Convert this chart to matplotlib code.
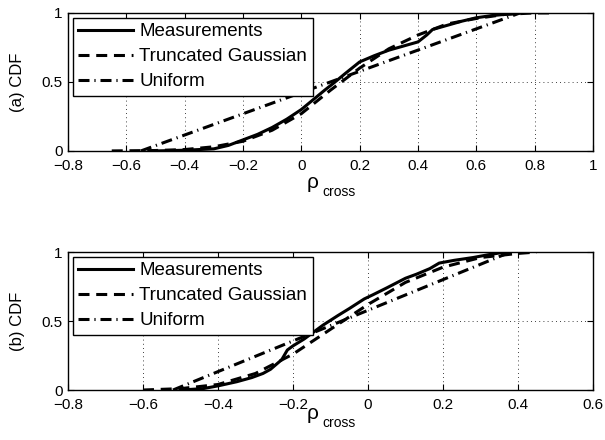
import numpy as np
import matplotlib
matplotlib.use("Agg")
import matplotlib.pyplot as plt

plt.rcParams['font.family'] = ['Liberation Sans', 'DejaVu Sans']

# (a) top panel
top_meas_x = [-0.5, -0.4, -0.3, -0.25, -0.2, -0.15, -0.1, -0.05, 0.0, 0.04, 0.08, 0.11,
              0.15, 0.2, 0.25, 0.3, 0.35, 0.4, 0.43, 0.45, 0.5, 0.55, 0.6, 0.65, 0.7, 0.75]
top_meas_y = [0.0, 0.005, 0.015, 0.04, 0.08, 0.12, 0.17, 0.23, 0.30, 0.37, 0.44, 0.49,
              0.56, 0.645, 0.69, 0.73, 0.76, 0.79, 0.84, 0.88, 0.91, 0.94, 0.965, 0.98, 0.99, 1.0]
top_gauss_x = [-0.65, -0.5, -0.4, -0.3, -0.2, -0.1, 0.0, 0.1, 0.2, 0.3, 0.4, 0.5, 0.6, 0.7, 0.8, 0.85]
top_gauss_y = [0.0, 0.003, 0.01, 0.03, 0.07, 0.15, 0.27, 0.44, 0.60, 0.74, 0.84, 0.92, 0.96, 0.99, 1.0, 1.0]
top_unif_x = [-0.55, 0.75]
top_unif_y = [0.0, 1.0]

# (b) bottom panel
bot_meas_x = [-0.5, -0.44, -0.4, -0.35, -0.31, -0.28, -0.26, -0.23, -0.215, -0.2, -0.17, -0.15,
              -0.12, -0.08, -0.05, -0.01, 0.013, 0.05, 0.1, 0.13, 0.165, 0.19, 0.23, 0.28, 0.32, 0.355, 0.38]
bot_meas_y = [0.0, 0.01, 0.03, 0.06, 0.09, 0.12, 0.15, 0.22, 0.29, 0.32, 0.37, 0.41,
              0.47, 0.54, 0.59, 0.66, 0.69, 0.74, 0.81, 0.84, 0.88, 0.92, 0.94, 0.96, 0.98, 0.995, 1.0]
bot_gauss_x = [-0.6, -0.5, -0.4, -0.3, -0.2, -0.1, 0.0, 0.1, 0.2, 0.3, 0.4, 0.45]
bot_gauss_y = [0.0, 0.01, 0.04, 0.12, 0.26, 0.44, 0.62, 0.78, 0.89, 0.96, 0.99, 1.0]
bot_unif_x = [-0.52, 0.38]
bot_unif_y = [0.0, 1.0]

labels = ['Measurements', 'Truncated Gaussian', 'Uniform']
top_xticks = [-0.8, -0.6, -0.4, -0.2, 0, 0.2, 0.4, 0.6, 0.8, 1]
bot_xticks = [-0.8, -0.6, -0.4, -0.2, 0, 0.2, 0.4, 0.6]

fig = plt.figure(figsize=(6.05, 4.4), dpi=100)
ax1 = fig.add_axes([0.1124, 0.657, 0.8677, 0.3136])
ax2 = fig.add_axes([0.1124, 0.1136, 0.8677, 0.3136])


def fmt(v):
    return '%g' % v


def draw(ax, mx, my, gx, gy, ux, uy, xticks, tag):
    ax.plot(mx, my, color='black', lw=2.2, label=labels[0])
    ax.plot(gx, gy, color='black', lw=2.2, dashes=(3.6, 2.2), label=labels[1])
    ax.plot(ux, uy, color='black', lw=2.2, dashes=(3.6, 1.6, 0.4, 1.6), label=labels[2])
    ax.set_xlim(xticks[0], xticks[-1])
    ax.set_ylim(0, 1)
    ax.set_xticks(xticks)
    ax.set_xticklabels([fmt(t).replace('-', '\u2212') for t in xticks])
    ax.set_yticks([0, 0.5, 1])
    ax.set_yticklabels(['0', '0.5', '1'])
    ax.tick_params(direction='in', top=True, right=True, labelsize=11, length=4)
    ax.tick_params(axis='x', pad=6)
    ax.tick_params(axis='y', pad=4)
    ax.grid(True, linestyle=(0, (1, 4)), color='black', lw=0.6)
    for s in ax.spines.values():
        s.set_linewidth(1.0)
    ax.set_ylabel(tag + ' CDF', fontsize=12, labelpad=12)
    leg = ax.legend(loc='upper left', fontsize=13.5, fancybox=False, edgecolor='black',
                    framealpha=1, handlelength=2.9, handletextpad=0.35, borderpad=0.3,
                    labelspacing=0.42, borderaxespad=0.25)
    leg.get_frame().set_linewidth(1.0)


draw(ax1, top_meas_x, top_meas_y, top_gauss_x, top_gauss_y, top_unif_x, top_unif_y, top_xticks, '(a)')
draw(ax2, bot_meas_x, bot_meas_y, bot_gauss_x, bot_gauss_y, bot_unif_x, bot_unif_y, bot_xticks, '(b)')

# x labels: rho with "cross" set lower and smaller
fig.text(0.516, 0.585, '\u03c1', fontsize=15, ha='center', va='center')
fig.text(0.533, 0.563, 'cross', fontsize=10, ha='left', va='center')
fig.text(0.516, 0.060, '\u03c1', fontsize=15, ha='center', va='center')
fig.text(0.533, 0.038, 'cross', fontsize=10, ha='left', va='center')

fig.savefig('out.png', dpi=100)
